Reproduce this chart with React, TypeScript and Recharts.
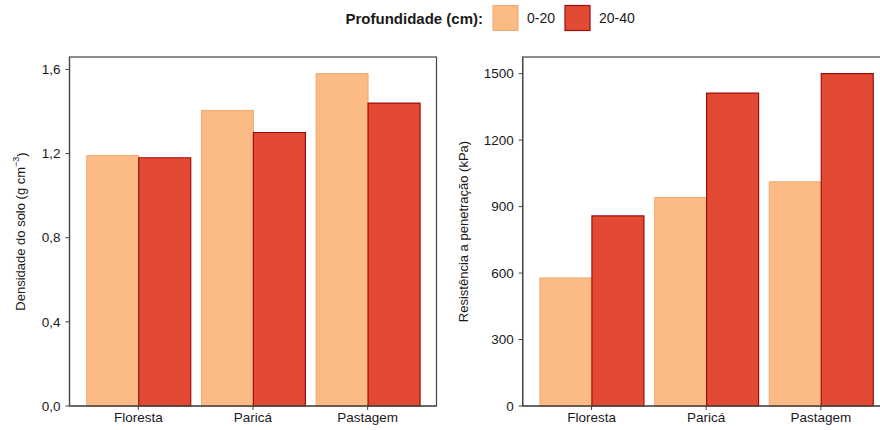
import React from 'react';
import { BarChart, Bar, XAxis, YAxis } from 'recharts';

const categories = ['Floresta', 'Paricá', 'Pastagem'];
const densidade0_20 = [1.19, 1.405, 1.58];
const densidade20_40 = [1.18, 1.3, 1.44];
const resistencia0_20 = [578, 941, 1012];
const resistencia20_40 = [858, 1412, 1500];
const densidadeTicks = [0, 0.4, 0.8, 1.2, 1.6];
const resistenciaTicks = [0, 300, 600, 900, 1200, 1500];
const depthLabels = ['0-20', '20-40'];

const FONT = '"Liberation Sans", Arial, sans-serif';
const TEXT = '#1a1a1a';
const LINE = '#444';
const FILL_A = '#FCBA85';
const STROKE_A = '#F0A86E';
const FILL_B = '#E24A33';
const STROKE_B = '#9E0E0E';

// plot area geometry shared by both panels
const PLOT_TOP = 57;
const PLOT_W = 367;
const PLOT_H = 349;

const densData = categories.map((c, i) => ({ cat: c, a: densidade0_20[i], b: densidade20_40[i] }));
const resData = categories.map((c, i) => ({ cat: c, a: resistencia0_20[i], b: resistencia20_40[i] }));

const tickStyle = { fontSize: 13.5, fill: TEXT, fontFamily: FONT };

interface PanelProps {
  data: { cat: string; a: number; b: number }[];
  max: number;
  ticks: number[];
  fmt: (v: number) => string;
  width: number;
  left: number;
}

const Panel = ({ data, max, ticks, fmt, width, left }: PanelProps) => (
  <BarChart
    width={width}
    height={430}
    data={data}
    margin={{ top: PLOT_TOP, right: width - left - 40 - PLOT_W, bottom: 0, left }}
    barCategoryGap="5%"
    barGap={0}
  >
    <XAxis
      dataKey="cat"
      height={430 - PLOT_TOP - PLOT_H}
      padding={{ left: 11.5, right: 11.5 }}
      tick={tickStyle}
      tickSize={4}
      tickMargin={2}
      axisLine={{ stroke: LINE, strokeWidth: 1.2 }}
      tickLine={{ stroke: LINE }}
    />
    <YAxis
      domain={[0, max]}
      ticks={ticks}
      width={40}
      tickFormatter={fmt}
      tick={tickStyle}
      tickSize={4}
      tickMargin={5}
      axisLine={{ stroke: LINE, strokeWidth: 1.2 }}
      tickLine={{ stroke: LINE }}
    />
    <Bar dataKey="a" name={depthLabels[0]} fill={FILL_A} stroke={STROKE_A} strokeWidth={1} isAnimationActive={false} />
    <Bar dataKey="b" name={depthLabels[1]} fill={FILL_B} stroke={STROKE_B} strokeWidth={1.2} isAnimationActive={false} />
  </BarChart>
);

export default function App() {
  const leftX = 69.5;
  const rightX = 522.7;
  return (
    <div
      style={{
        position: 'absolute',
        left: 0,
        top: 0,
        width: 880,
        height: 430,
        overflow: 'hidden',
        background: '#fff',
        fontFamily: FONT,
      }}
    >
      <div style={{ position: 'absolute', left: 0, top: 0 }}>
        <Panel
          data={densData}
          max={1.58 * 1.05}
          ticks={densidadeTicks}
          fmt={(v) => v.toFixed(1).replace('.', ',')}
          width={440}
          left={leftX - 40}
        />
      </div>
      <div style={{ position: 'absolute', left: 440, top: 0 }}>
        <Panel
          data={resData}
          max={1500 * 1.05}
          ticks={resistenciaTicks}
          fmt={(v) => String(v)}
          width={460}
          left={rightX - 440 - 40}
        />
      </div>
      <svg
        width={880}
        height={430}
        style={{ position: 'absolute', left: 0, top: 0, pointerEvents: 'none' }}
        fontFamily={FONT}
      >
        {/* panel borders */}
        <rect x={leftX} y={PLOT_TOP} width={PLOT_W} height={PLOT_H} fill="none" stroke={LINE} strokeWidth={1.2} />
        <rect x={rightX} y={PLOT_TOP} width={PLOT_W} height={PLOT_H} fill="none" stroke={LINE} strokeWidth={1.2} />

        <text x={483} y={18} textAnchor="end" dominantBaseline="central" fontSize={15} fontWeight="bold" fill={TEXT}>
          Profundidade (cm):
        </text>
        <rect x={493} y={5.5} width={25} height={25} fill={FILL_A} stroke={STROKE_A} />
        <text x={527} y={18} dominantBaseline="central" fontSize={14} fill={TEXT}>
          {depthLabels[0]}
        </text>
        <rect x={565} y={5.5} width={25} height={25} fill={FILL_B} stroke={STROKE_B} strokeWidth={1.2} />
        <text x={599} y={18} dominantBaseline="central" fontSize={14} fill={TEXT}>
          {depthLabels[1]}
        </text>

        <text
          transform="translate(20.5,231.5) rotate(-90)"
          textAnchor="middle"
          dominantBaseline="central"
          fontSize={13}
          fill={TEXT}
        >
          Densidade do solo (g cm
          <tspan fontSize={9} dy={-5}>−3</tspan>
          <tspan dy={5}>)</tspan>
        </text>
        <text
          transform="translate(463,231.5) rotate(-90)"
          textAnchor="middle"
          dominantBaseline="central"
          fontSize={13}
          fill={TEXT}
        >
          Resistência a penetração (kPa)
        </text>
      </svg>
    </div>
  );
}
